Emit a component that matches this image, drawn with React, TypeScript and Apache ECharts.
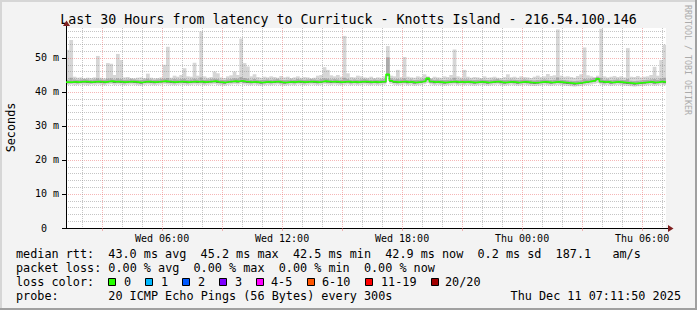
import React, { useEffect, useRef } from 'react';
import * as echarts from 'echarts';

// time axis: hours since Wed 00:00
const START = 1 + 11 / 60 + 50 / 3600; // Wed 01:11:50
const END = START + 30; // Thu 07:11:50
const STEP = 1 / 6; // 10 minute bins

const medianRtt = [
  42.9, 42.9, 43.0, 42.9, 43.0, 43.1, 43.0, 42.9, 43.0, 43.1,
  43.0, 42.9, 43.1, 43.2, 43.0, 43.1, 43.0, 42.9, 43.0, 43.1,
  43.0, 42.9, 42.8, 43.0, 43.1, 43.0, 42.9, 43.0, 43.1, 43.2,
  43.1, 43.0, 42.9, 43.0, 43.1, 43.0, 42.9, 43.0, 43.1, 43.0,
  43.1, 42.9, 43.0, 43.1, 43.2, 43.0, 42.9, 42.8, 43.0, 43.1,
  43.2, 43.1, 43.3, 43.1, 43.0, 42.9, 43.0, 42.9, 42.8, 42.9,
  43.0, 42.9, 43.0, 43.1, 42.9, 42.8, 42.9, 43.0, 42.9, 43.1,
  43.0, 42.9, 43.0, 43.1, 43.0, 42.9, 43.0, 43.2, 43.1, 43.0,
  43.1, 43.0, 42.9, 43.0, 43.1, 42.9, 43.0, 42.9, 43.0, 43.1,
  43.0, 42.9, 43.0, 42.9, 43.0, 43.1, 45.2, 43.3, 43.0, 42.9,
  43.0, 43.1, 42.9, 43.0, 42.8, 42.9, 43.0, 43.2, 44.0, 43.1,
  42.9, 43.0, 42.9, 42.8, 42.9, 43.0, 43.1, 42.9, 43.0, 42.9,
  43.0, 42.9, 42.8, 42.9, 43.0, 42.9, 42.8, 42.9, 43.0, 43.1,
  42.9, 42.8, 42.9, 43.0, 42.9, 42.8, 42.9, 43.0, 42.9, 42.8,
  42.7, 42.8, 42.9, 43.0, 42.9, 42.8, 42.9, 43.0, 42.9, 42.8,
  42.7, 42.6, 42.5, 42.6, 42.7, 42.9, 43.0, 43.2, 43.4, 43.9,
  43.1, 42.9, 43.0, 42.8, 42.9, 43.0, 42.9, 42.8, 42.7, 42.6,
  42.5, 42.6, 42.7, 42.8, 42.9, 43.0, 42.8, 42.9, 43.1, 42.9,
];

const smokeMin = [
  42.1, 42.2, 42.0, 42.1, 42.2, 42.1, 42.0, 42.2, 42.1, 42.2,
  42.1, 42.0, 42.2, 42.3, 42.1, 42.2, 42.1, 42.0, 42.1, 42.2,
  42.1, 42.0, 41.9, 42.1, 42.2, 42.1, 42.0, 42.1, 42.2, 42.3,
  42.2, 42.1, 42.0, 42.1, 42.2, 42.1, 42.0, 42.1, 42.2, 42.1,
  42.2, 42.0, 42.1, 42.2, 42.3, 42.1, 42.0, 41.9, 42.1, 42.2,
  42.3, 42.2, 42.4, 42.2, 42.1, 42.0, 42.1, 42.0, 41.9, 42.0,
  42.1, 42.0, 42.1, 42.2, 42.0, 41.9, 42.0, 42.1, 42.0, 42.2,
  42.1, 42.0, 42.1, 42.2, 42.1, 42.0, 42.1, 42.3, 42.2, 42.1,
  42.2, 42.1, 42.0, 42.1, 42.2, 42.0, 42.1, 42.0, 42.1, 42.2,
  42.1, 42.0, 42.1, 42.0, 42.1, 42.2, 44.3, 42.4, 42.1, 42.0,
  42.1, 42.2, 42.0, 42.1, 41.9, 42.0, 42.1, 42.3, 42.6, 42.2,
  42.0, 42.1, 42.0, 41.9, 42.0, 42.1, 42.2, 42.0, 42.1, 42.0,
  42.1, 42.0, 41.9, 42.0, 42.1, 42.0, 41.9, 42.0, 42.1, 42.2,
  42.0, 41.9, 42.0, 42.1, 42.0, 41.9, 42.0, 42.1, 42.0, 41.9,
  41.8, 41.9, 42.0, 42.1, 42.0, 41.9, 42.0, 42.1, 42.0, 41.9,
  41.8, 41.7, 41.6, 41.7, 41.8, 42.0, 42.1, 42.2, 42.4, 42.6,
  42.2, 42.0, 42.1, 41.9, 42.0, 42.1, 42.0, 41.9, 41.8, 41.7,
  41.6, 41.7, 41.8, 41.9, 42.0, 42.1, 41.9, 42.0, 42.2, 42.0,
];

const smokeMidLow = [
  42.6, 42.6, 42.7, 42.6, 42.7, 42.8, 42.7, 42.6, 42.7, 42.8,
  42.7, 42.6, 42.8, 42.9, 42.7, 42.8, 42.7, 42.6, 42.7, 42.8,
  42.7, 42.6, 42.5, 42.7, 42.8, 42.7, 42.6, 42.7, 42.8, 42.9,
  42.8, 42.7, 42.6, 42.7, 42.8, 42.7, 42.6, 42.7, 42.8, 42.7,
  42.8, 42.6, 42.7, 42.8, 42.9, 42.7, 42.6, 42.5, 42.7, 42.8,
  42.9, 42.8, 43.0, 42.8, 42.7, 42.6, 42.7, 42.6, 42.5, 42.6,
  42.7, 42.6, 42.7, 42.8, 42.6, 42.5, 42.6, 42.7, 42.6, 42.8,
  42.7, 42.6, 42.7, 42.8, 42.7, 42.6, 42.7, 42.9, 42.8, 42.7,
  42.8, 42.7, 42.6, 42.7, 42.8, 42.6, 42.7, 42.6, 42.7, 42.8,
  42.7, 42.6, 42.7, 42.6, 42.7, 42.8, 44.8, 43.0, 42.7, 42.6,
  42.7, 42.8, 42.6, 42.7, 42.5, 42.6, 42.7, 42.9, 43.5, 42.8,
  42.6, 42.7, 42.6, 42.5, 42.6, 42.7, 42.8, 42.6, 42.7, 42.6,
  42.7, 42.6, 42.5, 42.6, 42.7, 42.6, 42.5, 42.6, 42.7, 42.8,
  42.6, 42.5, 42.6, 42.7, 42.6, 42.5, 42.6, 42.7, 42.6, 42.5,
  42.4, 42.5, 42.6, 42.7, 42.6, 42.5, 42.6, 42.7, 42.6, 42.5,
  42.4, 42.3, 42.2, 42.3, 42.4, 42.6, 42.7, 42.9, 43.1, 43.5,
  42.8, 42.6, 42.7, 42.5, 42.6, 42.7, 42.6, 42.5, 42.4, 42.3,
  42.2, 42.3, 42.4, 42.5, 42.6, 42.7, 42.5, 42.6, 42.8, 42.6,
];

const smokeMidHigh = [
  43.6, 44.2, 43.7, 43.6, 43.7, 43.8, 43.7, 43.6, 43.7, 44.0,
  43.7, 43.6, 43.9, 44.0, 43.7, 44.0, 43.8, 43.6, 43.7, 43.8,
  43.7, 43.6, 43.5, 43.7, 43.9, 43.7, 43.6, 43.7, 43.8, 43.9,
  44.1, 43.7, 43.8, 43.7, 43.8, 43.9, 43.6, 43.7, 43.9, 43.7,
  44.3, 43.6, 43.7, 43.8, 43.9, 43.8, 43.6, 43.5, 43.7, 43.8,
  44.0, 43.9, 44.4, 44.1, 43.9, 43.6, 43.8, 43.6, 43.5, 43.6,
  43.7, 43.6, 43.7, 43.8, 43.6, 43.5, 43.6, 43.7, 43.6, 43.8,
  43.7, 43.6, 43.7, 43.8, 43.7, 43.6, 43.8, 44.0, 43.9, 43.7,
  43.8, 43.7, 43.6, 44.2, 43.8, 43.6, 43.7, 43.6, 43.7, 43.8,
  43.7, 43.6, 43.7, 43.6, 43.7, 43.8, 50.2, 44.0, 43.7, 43.8,
  43.7, 44.0, 43.6, 43.7, 43.5, 43.6, 43.7, 43.9, 44.5, 43.8,
  43.6, 43.7, 43.6, 43.5, 43.6, 43.7, 44.2, 43.6, 43.7, 43.7,
  43.7, 43.6, 43.5, 43.6, 43.7, 43.6, 43.5, 43.6, 43.7, 43.8,
  43.6, 43.5, 43.6, 43.7, 43.6, 43.5, 43.6, 43.7, 43.6, 43.5,
  43.4, 43.5, 43.6, 43.7, 43.6, 43.5, 43.6, 44.3, 43.6, 43.5,
  43.4, 43.3, 43.2, 43.3, 43.4, 43.8, 43.7, 43.9, 44.1, 44.4,
  44.2, 43.6, 43.7, 43.5, 43.6, 43.7, 43.6, 43.5, 43.8, 43.3,
  43.2, 43.3, 43.4, 43.5, 43.6, 43.7, 43.8, 43.6, 44.0, 44.2,
];

const smokeMax = [
  52.4, 55.3, 44.5, 44.2, 44.3, 44.0, 44.2, 44.1, 44.3, 50.6,
  44.2, 44.0, 48.5, 48.3, 45.0, 51.2, 49.4, 44.3, 44.4, 44.1,
  44.0, 44.2, 44.3, 44.1, 45.4, 44.2, 44.0, 44.1, 44.3, 48.0,
  53.3, 44.2, 44.8, 44.5, 45.0, 47.0, 44.6, 44.5, 48.6, 44.8,
  57.8, 44.6, 44.2, 44.4, 46.0, 45.5, 44.3, 44.1, 44.6, 44.9,
  46.0, 45.0, 55.7, 48.5, 47.5, 44.6, 45.2, 44.4, 44.2, 44.5,
  44.3, 44.6, 44.4, 44.2, 44.7, 44.3, 44.5, 44.1, 44.3, 44.6,
  44.2, 44.4, 44.3, 44.0, 44.2, 44.8, 45.0, 47.3, 46.5, 44.9,
  44.6, 45.0, 44.5, 56.5, 45.5, 44.4, 44.3, 44.8, 44.6, 44.3,
  44.2, 44.5, 44.1, 44.3, 44.2, 44.6, 53.5, 44.8, 44.6, 46.5,
  44.4, 50.3, 44.5, 44.3, 44.2, 44.6, 44.4, 45.2, 44.3, 44.1,
  44.5, 44.3, 44.2, 44.6, 44.4, 45.0, 52.5, 44.6, 44.3, 46.5,
  44.5, 44.2, 44.4, 44.3, 44.1, 44.6, 44.2, 44.3, 44.5, 44.2,
  44.1, 44.4, 45.2, 44.3, 44.5, 44.2, 44.6, 44.4, 44.3, 44.1,
  44.5, 44.8, 44.4, 44.6, 45.3, 44.7, 44.9, 58.4, 44.8, 44.5,
  44.6, 44.4, 44.2, 44.7, 45.2, 53.1, 44.9, 44.6, 44.4, 44.8,
  58.6, 44.6, 44.3, 44.5, 44.7, 44.4, 44.6, 44.3, 52.9, 44.5,
  44.4, 44.7, 44.3, 44.5, 44.6, 45.0, 47.4, 44.8, 49.4, 53.9,
];

const yLabelValues = [0, 10, 20, 30, 40, 50];
const yMinorValues = [2, 4, 6, 8, 12, 14, 16, 18, 22, 24, 26, 28, 32, 34, 36, 38, 42, 44, 46, 48, 52, 54, 56, 58];
const xMajorHours = [3, 6, 9, 12, 15, 18, 21, 24, 27, 30];
const xMinorHours = [2, 4, 5, 7, 8, 10, 11, 13, 14, 16, 17, 19, 20, 22, 23, 25, 26, 28, 29, 31];
const xLabelHours = [6, 12, 18, 24, 30];

const titleText = 'Last 30 Hours from latency to Currituck - Knotts Island - 216.54.100.146';
const legendMedian = 'median rtt:  43.0 ms avg  45.2 ms max  42.5 ms min  42.9 ms now  0.2 ms sd  187.1   am/s';
const legendLoss = 'packet loss: 0.00 % avg  0.00 % max  0.00 % min  0.00 % now';
const legendColorTitle = 'loss color:';
const lossLabels = ['0', '1', '2', '3', '4-5', '6-10', '11-19', '20/20'];
const lossColors = ['#26ff00', '#00b8ff', '#0059ff', '#7e00ff', '#ff00ff', '#ff5500', '#ff0000', '#a10000'];
const legendProbe = 'probe:       20 ICMP Echo Pings (56 Bytes) every 300s';
const stampText = 'Thu Dec 11 07:11:50 2025';
const watermark = 'RRDTOOL / TOBI OETIKER';

const GRID_COLOR = 'rgba(150,150,150,0.55)';
const MGRID_COLOR = 'rgba(235,110,110,0.5)';
const CHAR_W = 7.1;
const LEG_FS = 11.8;

function textEl(text: string, x: number, y: number, opts: any = {}) {
  const fs = opts.fontSize || LEG_FS;
  return {
    type: 'text',
    x,
    y,
    rotation: opts.rotation || 0,
    silent: true,
    style: {
      text,
      fill: opts.fill || '#000',
      font: `${fs}px "DejaVu Sans Mono"`,
      fontSize: fs,
      fontFamily: 'DejaVu Sans Mono',
      align: opts.align || 'left',
      textAlign: opts.align || 'left',
      verticalAlign: 'middle',
      textVerticalAlign: 'middle',
    },
  };
}

function rowEls(str: string, y: number) {
  const out: any[] = [];
  const re = /\S+(?: \S+)*/g;
  let m: RegExpExecArray | null;
  while ((m = re.exec(str))) {
    out.push(textEl(m[0], 16 + m.index * CHAR_W, y));
  }
  return out;
}

function buildOption() {
  const lossBoxX = [108, 145, 182, 219, 256, 307, 365, 431];
  const lossLabelX = [124, 161, 198, 235, 271, 322, 381, 445];
  const graphic: any[] = [
    { type: 'rect', shape: { x: 0, y: 0, width: 697, height: 2 }, style: { fill: '#d6d6d6' }, silent: true },
    { type: 'rect', shape: { x: 0, y: 0, width: 2, height: 310 }, style: { fill: '#d6d6d6' }, silent: true },
    { type: 'rect', shape: { x: 0, y: 308, width: 697, height: 2 }, style: { fill: '#a0a0a0' }, silent: true },
    { type: 'rect', shape: { x: 695, y: 0, width: 2, height: 310 }, style: { fill: '#a0a0a0' }, silent: true },
    textEl(titleText, 348.5, 19, { fontSize: 13.3, align: 'center' }),
    textEl(watermark, 688, 5, { fontSize: 8.3, fill: '#ababab', rotation: -Math.PI / 2 }),
    textEl('Seconds', 10.5, 127.5, { fontSize: 11.8, align: 'center', rotation: Math.PI / 2 }),
    ...rowEls(legendMedian, 254),
    ...rowEls(legendLoss, 268),
    textEl(legendColorTitle, 16, 282),
    ...rowEls(legendProbe, 296),
    textEl(stampText, 681, 296, { align: 'right' }),
    // axis extensions and arrows
    { type: 'line', shape: { x1: 666, y1: 228.5, x2: 669, y2: 228.5 }, style: { stroke: '#000', lineWidth: 1 }, silent: true },
    { type: 'polygon', shape: { points: [[668, 225], [673.5, 228.5], [668, 232]] }, style: { fill: '#7f1f1f' }, silent: true },
    { type: 'line', shape: { x1: 66.5, y1: 28, x2: 66.5, y2: 25 }, style: { stroke: '#000', lineWidth: 1 }, silent: true },
    { type: 'polygon', shape: { points: [[63, 26], [66.5, 20.5], [70, 26]] }, style: { fill: '#7f1f1f' }, silent: true },
  ];
  lossLabels.forEach((lab, i) => {
    graphic.push({
      type: 'rect',
      shape: { x: lossBoxX[i] + 0.5, y: 278.5, width: 7, height: 7 },
      style: { fill: lossColors[i], stroke: '#000', lineWidth: 1 },
      silent: true,
    });
    graphic.push(textEl(lab, lossLabelX[i], 282));
  });

  const smokeData = smokeMin.map((v, i) => [
    START + i * STEP,
    v,
    smokeMidLow[i],
    smokeMidHigh[i],
    smokeMax[i],
    medianRtt[i],
  ]);
  const medianData: number[][] = medianRtt.map((v, i) => [START + i * STEP, v]);
  medianData.push([END, medianRtt[medianRtt.length - 1]]);

  const xFmt = (v: number) => {
    const day = v >= 24 ? 'Thu' : 'Wed';
    const h = Math.round(v % 24);
    return `${day} ${String(h).padStart(2, '0')}:00`;
  };

  return {
    animation: false,
    backgroundColor: '#f3f3f3',
    grid: {
      left: 66,
      right: 31,
      top: 28,
      bottom: 82,
      show: true,
      backgroundColor: '#ffffff',
      borderWidth: 0,
    },
    xAxis: [
      {
        type: 'value',
        position: 'bottom',
        min: START,
        max: END,
        z: 3,
        axisLine: { show: false },
        axisTick: { show: false, customValues: xMinorHours },
        axisLabel: { show: false },
        splitLine: { show: true, lineStyle: { color: GRID_COLOR, type: [1, 1], width: 1 } },
      },
      {
        type: 'value',
        position: 'bottom',
        min: START,
        max: END,
        z: 3,
        axisLine: { show: true, onZero: false, lineStyle: { color: '#000', width: 1 } },
        axisTick: { show: true, customValues: xMajorHours, length: 3, lineStyle: { color: MGRID_COLOR } },
        axisLabel: {
          show: true,
          customValues: xLabelHours,
          formatter: xFmt,
          fontFamily: 'DejaVu Sans Mono',
          fontSize: 10,
          color: '#000',
          margin: 5,
        },
        splitLine: { show: true, lineStyle: { color: MGRID_COLOR, type: [1, 1], width: 1 } },
      },
    ],
    yAxis: [
      {
        type: 'value',
        position: 'left',
        min: 0,
        max: 58.82,
        z: 3,
        axisLine: { show: false },
        axisTick: { show: false, customValues: yMinorValues },
        axisLabel: { show: false },
        splitLine: { show: true, lineStyle: { color: GRID_COLOR, type: [1, 1], width: 1 } },
      },
      {
        type: 'value',
        position: 'left',
        min: 0,
        max: 58.82,
        z: 3,
        axisLine: { show: true, onZero: false, lineStyle: { color: '#000', width: 1 } },
        axisTick: { show: true, customValues: yLabelValues, length: 4, lineStyle: { color: '#000' } },
        axisLabel: {
          show: true,
          customValues: yLabelValues,
          formatter: (v: number) => (v === 0 ? '{z|0}' : `${v} m`),
          fontFamily: 'DejaVu Sans Mono',
          fontSize: 10,
          color: '#000',
          margin: 7,
          rich: { z: { fontFamily: 'DejaVu Sans Mono', fontSize: 10, color: '#000', padding: [0, 12, 0, 0] } },
        },
        splitLine: { show: true, lineStyle: { color: MGRID_COLOR, type: [1, 1], width: 1 } },
      },
    ],
    series: [
      {
        type: 'custom',
        xAxisIndex: 0,
        yAxisIndex: 0,
        silent: true,
        clip: true,
        z: 2,
        encode: { x: 0, y: [1, 2, 3, 4, 5] },
        data: smokeData,
        renderItem: (params: any, api: any) => {
          const x0 = api.value(0);
          const x1 = x0 + STEP;
          const pMin = api.coord([x0, api.value(1)]);
          const pMax = api.coord([x1, api.value(4)]);
          const pMl = api.coord([x0, api.value(2)]);
          const pMh = api.coord([x1, api.value(3)]);
          const pMed = api.coord([x1, api.value(5)]);
          const w = pMax[0] - pMin[0] + 0.4;
          return {
            type: 'group',
            children: [
              { type: 'rect', shape: { x: pMin[0], y: pMax[1], width: w, height: pMin[1] - pMax[1] }, style: { fill: '#d6d6d6' } },
              { type: 'rect', shape: { x: pMin[0], y: pMh[1], width: w, height: pMl[1] - pMh[1] }, style: { fill: '#ababab' } },
              { type: 'rect', shape: { x: pMin[0], y: pMed[1], width: w, height: pMl[1] - pMed[1] }, style: { fill: '#6a6a6a' } },
            ],
          };
        },
      },
      {
        type: 'line',
        xAxisIndex: 0,
        yAxisIndex: 0,
        step: 'end',
        symbol: 'none',
        silent: true,
        z: 5,
        data: medianData,
        lineStyle: { color: '#26ff00', width: 1.6 },
      },
    ],
    graphic,
  };
}

export default function App() {
  const ref = useRef<HTMLDivElement>(null);
  useEffect(() => {
    const chart = echarts.init(ref.current!, null, { renderer: 'svg' });
    chart.setOption(buildOption() as any);
    return () => chart.dispose();
  }, []);
  return <div ref={ref} style={{ position: 'fixed', left: 0, top: 0, width: 697, height: 310 }} />;
}
